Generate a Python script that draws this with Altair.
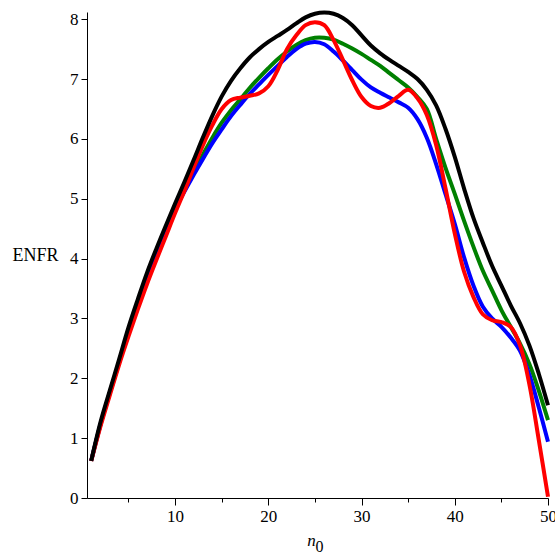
import altair as alt
import pandas as pd

n0 = list(range(1, 51))

black = [0.62, 1.27, 1.80, 2.32, 2.85, 3.32, 3.77, 4.17, 4.55, 4.92,
         5.28, 5.65, 6.03, 6.39, 6.71, 6.97, 7.18, 7.36, 7.50, 7.62,
         7.72, 7.82, 7.93, 8.03, 8.09, 8.11, 8.09, 8.02, 7.90, 7.73,
         7.56, 7.43, 7.32, 7.22, 7.12, 7.00, 6.82, 6.56, 6.17, 5.70,
         5.17, 4.68, 4.27, 3.88, 3.55, 3.22, 2.92, 2.55, 2.08, 1.55]

green = [0.62, 1.23, 1.76, 2.27, 2.78, 3.24, 3.67, 4.07, 4.46, 4.83,
         5.15, 5.45, 5.74, 6.02, 6.27, 6.48, 6.66, 6.85, 7.02, 7.18,
         7.33, 7.46, 7.57, 7.65, 7.69, 7.69, 7.66, 7.59, 7.51, 7.42,
         7.32, 7.22, 7.10, 6.98, 6.86, 6.70, 6.50, 6.00, 5.52, 5.08,
         4.63, 4.20, 3.80, 3.47, 3.14, 2.86, 2.58, 2.24, 1.80, 1.30]

blue = [0.62, 1.23, 1.76, 2.27, 2.78, 3.24, 3.67, 4.07, 4.46, 4.83,
        5.12, 5.40, 5.67, 5.93, 6.16, 6.38, 6.57, 6.75, 6.91, 7.07,
        7.22, 7.37, 7.50, 7.59, 7.62, 7.58, 7.46, 7.31, 7.15, 6.99,
        6.86, 6.77, 6.69, 6.61, 6.52, 6.33, 6.02, 5.58, 5.08, 4.58,
        4.02, 3.55, 3.20, 3.00, 2.86, 2.68, 2.46, 2.06, 1.52, 0.94]

red = [0.62, 1.20, 1.72, 2.23, 2.70, 3.15, 3.58, 3.98, 4.37, 4.76,
       5.13, 5.52, 5.90, 6.23, 6.50, 6.65, 6.69, 6.72, 6.76, 6.88,
       7.15, 7.50, 7.73, 7.90, 7.95, 7.90, 7.65, 7.32, 6.98, 6.70,
       6.55, 6.52, 6.60, 6.72, 6.82, 6.68, 6.40, 5.90, 5.18, 4.42,
       3.78, 3.36, 3.07, 2.97, 2.94, 2.86, 2.55, 1.90, 0.98, 0.02]

series = [("green", green, "#008000"), ("blue", blue, "#0000ff"),
          ("red", red, "#ff0000"), ("black", black, "#000000")]

x_ticks = [5, 10, 15, 20, 25, 30, 35, 40, 45, 50]
y_ticks = [v / 2 for v in range(0, 17)]

FONT = "Liberation Serif"

x_scale = alt.Scale(domain=[0.55, 50], nice=False, zero=False)
y_scale = alt.Scale(domain=[0, 8.12], nice=False, zero=False)

x_axis = alt.Axis(
    values=x_ticks,
    format="d",
    labelExpr="datum.value % 10 === 0 ? datum.label : ''",
    labelFont=FONT, labelFontSize=17, labelColor="black", labelPadding=3,
    labelFlush=False, labelOverlap=False,
    tickSize={"condition": {"test": "datum.value % 10 === 0", "value": 7}, "value": 4},
    title="n",
    titleFont=FONT, titleFontSize=17, titleFontStyle="italic", titleFontWeight="normal",
    titleAlign="center", titleBaseline="alphabetic", titleX=224, titleY=47,
)
y_axis = alt.Axis(
    values=y_ticks,
    format="d",
    labelExpr="datum.value % 1 === 0 ? datum.label : ''",
    labelFont=FONT, labelFontSize=17, labelColor="black", labelPadding=3,
    labelFlush=False, labelOverlap=False,
    tickSize={"condition": {"test": "datum.value % 1 === 0", "value": 6}, "value": 4},
    title="ENFR",
    titleAngle=0, titleAlign="right", titleBaseline="middle",
    titleX=-29, titleY=243,
    titleFont=FONT, titleFontSize=18, titleFontWeight="normal",
)

layers = []
for name, vals, col in series:
    df = pd.DataFrame({"n0": n0, "v": vals})
    layers.append(
        alt.Chart(df).mark_line(color=col, strokeWidth=4, interpolate="catmull-rom", strokeJoin="round", strokeCap="butt")
        .encode(
            x=alt.X("n0:Q", scale=x_scale, axis=x_axis),
            y=alt.Y("v:Q", scale=y_scale, axis=y_axis),
        )
    )

chart = alt.layer(*layers).properties(
    width=461, height=486,
    autosize=alt.AutoSizeParams(type="none"),
    padding={"left": 87, "top": 12, "right": 7, "bottom": 58},
    background="white",
    title=alt.TitleParams("0", orient="bottom", anchor="middle", font=FONT, fontSize=16,
                          fontWeight="normal", color="black", dx=2, dy=4, offset=0,
                          baseline="alphabetic"),
).configure_view(stroke=None).configure_axis(
    grid=False, domainColor="black", tickColor="black",
    titleColor="black", domainWidth=1, tickWidth=1,
)

chart.save("out.html", embed_options={"renderer": "svg", "actions": False})
